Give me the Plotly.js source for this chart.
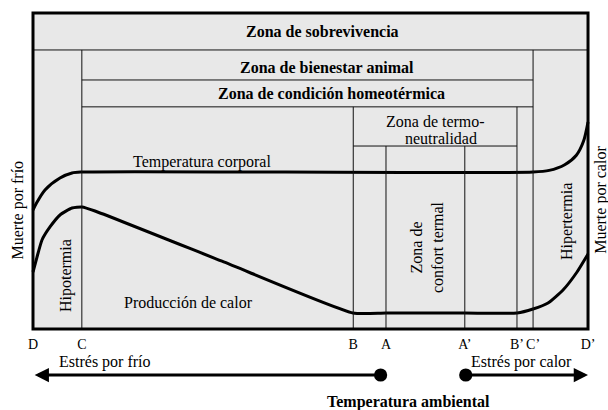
<!DOCTYPE html>
<html>
<head>
<meta charset="utf-8">
<script src="https://cdn.plot.ly/plotly-3.0.1.min.js"></script>
<style>html,body{margin:0;padding:0;background:#fff;}#chart{width:608px;height:410px;}</style>
</head>
<body>
<div id="chart"></div>
<script>
// Ambient temperature axis (arbitrary units, D = 0, D' = 100)
const tickLabels = ["D", "C", "B", "A", "A\u2019", "B\u2019", "C\u2019", "D\u2019"];
const tickValues = [0, 8.8, 57.7, 63.6, 77.8, 87.2, 90.1, 100];

// Zone boundaries on the vertical scale (0 = bottom of frame, 100 = top)
const zoneLevels = { survival: 88.3, welfare: 78.8, homeothermy: 70.3, thermoneutral: 57.9 };

// Body temperature curve
const bodyTempX = [0, 0.54, 2.16, 4.86, 7.03, 8.83, 90.09, 93.0, 95.8, 97.9, 99.2, 100];
const bodyTempY = [37.66, 39.56, 43.99, 47.78, 49.37, 49.68, 49.68, 50.2, 52.0, 55.0, 59.5, 65.51];

// Heat production curve
const heatProdX = [0, 0.72, 1.62, 3.06, 4.86, 7.03, 8.83, 11.17, 34.05, 57.66, 63.6, 77.8, 87.21, 90.09, 92.79, 95.5, 98.02, 100];
const heatProdY = [18.04, 22.78, 28.16, 32.28, 36.08, 38.29, 38.61, 37.34, 21.45, 5.06, 5.06, 5.06, 5.06, 6.33, 8.23, 12.34, 18.04, 23.73];

// Stress arrows (start, end) on the temperature axis and their level
const coldStress = [62.9, 0.3];
const heatStress = [77.7, 100];
const stressLevel = -14.56;

const FONT = "Liberation Serif, Times New Roman, Times, serif";
const C = tickValues;

const thin = { color: "#111", width: 1 };
const shapes = [
  { type: "rect", xref: "x", yref: "y", x0: 0, x1: 100, y0: 0, y1: 100, fillcolor: "#e8e8e8", line: { width: 0 }, layer: "below" },
  { type: "line", x0: 0, x1: 100, y0: zoneLevels.survival, y1: zoneLevels.survival, line: thin },
  { type: "line", x0: C[1], x1: C[1], y0: 0, y1: zoneLevels.survival, line: thin },
  { type: "line", x0: C[6], x1: C[6], y0: 0, y1: zoneLevels.survival, line: thin },
  { type: "line", x0: C[1], x1: C[6], y0: zoneLevels.welfare, y1: zoneLevels.welfare, line: thin },
  { type: "line", x0: C[1], x1: C[6], y0: zoneLevels.homeothermy, y1: zoneLevels.homeothermy, line: thin },
  { type: "line", x0: C[2], x1: C[2], y0: 0, y1: zoneLevels.homeothermy, line: thin },
  { type: "line", x0: C[5], x1: C[5], y0: 0, y1: zoneLevels.homeothermy, line: thin },
  { type: "line", x0: C[2], x1: C[5], y0: zoneLevels.thermoneutral, y1: zoneLevels.thermoneutral, line: thin },
  { type: "line", x0: C[3], x1: C[3], y0: 0, y1: zoneLevels.thermoneutral, line: thin },
  { type: "line", x0: C[4], x1: C[4], y0: 0, y1: zoneLevels.thermoneutral, line: thin },
  { type: "rect", x0: 0, x1: 100, y0: 0, y1: 100, line: { color: "#000", width: 3 }, layer: "above" }
];

const traces = [
  { x: bodyTempX, y: bodyTempY, mode: "lines", line: { color: "#000", width: 3, shape: "spline", smoothing: 0.8 }, hoverinfo: "skip" },
  { x: heatProdX, y: heatProdY, mode: "lines", line: { color: "#000", width: 3, shape: "spline", smoothing: 0.5 }, hoverinfo: "skip" }
];

function txt(text, x, y, opts) {
  return Object.assign({ text: text, x: x, y: y, xref: "x", yref: "y", showarrow: false,
    font: { family: FONT, size: 16, color: "#000" }, xanchor: "center", yanchor: "middle" }, opts || {});
}
function arrow(pair) {
  return { x: pair[1], y: stressLevel, ax: pair[0], ay: stressLevel, xref: "x", yref: "y", axref: "x", ayref: "y",
    text: "", showarrow: true, arrowhead: 2, arrowsize: 0.95, arrowwidth: 3, arrowcolor: "#000",
    arrowside: "end+start", startarrowhead: 6, startarrowsize: 1.1, standoff: 0, startstandoff: 0 };
}

const annotations = [
  txt("<b>Zona de sobrevivencia</b>", 52.16, 93.99),
  txt("<b>Zona de bienestar animal</b>", 52.97, 82.91),
  txt("<b>Zona de condición homeotérmica</b>", 53.78, 74.37),
  txt("Zona de termo-", 72.52, 65.51),
  txt("neutralidad", 73.42, 60.44),
  txt("Temperatura corporal", 30.36, 52.85),
  txt("Producción de calor", 28.02, 8.54),
  txt("Hipotermia", 5.95, 16.77, { textangle: -90 }),
  txt("Zona de<br>confort termal", 70.99, 25.95, { textangle: -90 }),
  txt("Hipertermia", 96.22, 33.86, { textangle: -90 }),
  txt("Muerte por frío", -2.79, 37.66, { textangle: -90 }),
  txt("Muerte por calor", 102.3, 40.82, { textangle: -90 }),
  txt("Estrés por frío", 12.97, -10.44),
  txt("Estrés por calor", 87.93, -10.44),
  txt("<b>Temperatura ambiental</b>", 67.57, -23.10),
  arrow(coldStress),
  arrow(heatStress)
];

const layout = {
  width: 608, height: 410,
  margin: { l: 0, r: 0, t: 0, b: 0, pad: 0 },
  paper_bgcolor: "#fff", plot_bgcolor: "#fff",
  showlegend: false,
  font: { family: FONT, color: "#000" },
  xaxis: { range: [-5.946, 103.6], showgrid: false, zeroline: false, showline: false,
    ticks: "", tickmode: "array", tickvals: tickValues, ticktext: tickLabels, ticklabelstandoff: 5,
    tickfont: { family: FONT, size: 14, color: "#000" }, anchor: "free", position: 0.1976, fixedrange: true },
  yaxis: { range: [-25.63, 104.11], visible: false, fixedrange: true },
  shapes: shapes,
  annotations: annotations
};

Plotly.newPlot("chart", traces, layout, { staticPlot: true, displayModeBar: false });
</script>
</body>
</html>
